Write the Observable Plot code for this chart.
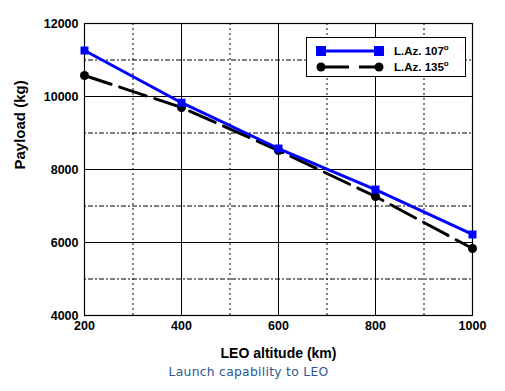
<!DOCTYPE html>
<html><head><meta charset="utf-8">
<script src="https://cdn.jsdelivr.net/npm/d3@7"></script>
<script src="https://cdn.jsdelivr.net/npm/@observablehq/plot@0.6"></script>
<style>
body{margin:0;background:#fff;font-family:'Liberation Sans',Arial,sans-serif;}
#wrap{position:relative;width:505px;height:391px;}
#legend{position:absolute;left:306px;top:37px;width:160px;height:40px;border:1px solid #000;background:#fff;box-sizing:border-box;}
#caption{position:absolute;left:0;top:365px;width:497px;text-align:center;font-family:'DejaVu Sans',Verdana,sans-serif;font-size:12.3px;color:#2b5797;letter-spacing:0.3px;}
svg text{font-family:'Liberation Sans',Arial,sans-serif;}
</style></head>
<body><div id="wrap"><div id="chart"></div><div id="legend"></div><div id="caption"></div></div>
<script>
const altitudes = [200, 400, 600, 800, 1000];
const payload107 = [11260, 9830, 8575, 7450, 6220];
const payload135 = [10575, 9700, 8520, 7260, 5835];
const seriesNames = ["L.Az. 107°", "L.Az. 135°"];
const xTicks = [200, 400, 600, 800, 1000];
const yTicks = [4000, 6000, 8000, 10000, 12000];
const xMinor = [300, 500, 700, 900];
const yMinor = [5000, 7000, 9000, 11000];
const xLabel = "LEO altitude (km)";
const yLabel = "Payload (kg)";
const caption = "Launch capability to LEO";

const d107 = altitudes.map((a, i) => ({x: a, y: payload107[i]}));
const d135 = altitudes.map((a, i) => ({x: a, y: payload135[i]}));

const FF = "'Liberation Sans', Arial, sans-serif";
const fontBold = {fontFamily: FF, fontWeight: "bold"};

const chart = Plot.plot({
  width: 505, height: 362,
  marginLeft: 84, marginRight: 33, marginTop: 23, marginBottom: 47,
  style: {fontFamily: FF, fontSize: "12px", background: "white", color: "black"},
  x: {domain: [200, 1000]},
  y: {domain: [4000, 12000]},
  marks: [
    Plot.ruleX(xMinor, {stroke: "black", strokeWidth: 1, strokeDasharray: "2,3"}),
    Plot.ruleY(yMinor, {stroke: "black", strokeWidth: 1, strokeDasharray: "2,2,5,2"}),
    Plot.ruleX(xTicks.slice(1, -1), {stroke: "black", strokeWidth: 1}),
    Plot.ruleY(yTicks.slice(1, -1), {stroke: "black", strokeWidth: 1}),
    Plot.frame({stroke: "black", strokeWidth: 1.2}),
    Plot.axisX(xTicks, {tickSize: 0, tickPadding: 6, label: null, tickFormat: d3.format("d"), ...fontBold, fontSize: 12.5}),
    Plot.axisY(yTicks, {tickSize: 0, tickPadding: 6, label: null, tickFormat: d3.format("d"), ...fontBold, fontSize: 12.5}),
    Plot.line(d135, {x: "x", y: "y", stroke: "black", strokeWidth: 3, strokeDasharray: "28,9"}),
    Plot.dot(d135, {x: "x", y: "y", fill: "black", r: 4.5}),
    Plot.line(d107, {x: "x", y: "y", stroke: "#0000ff", strokeWidth: 3}),
    Plot.dot(d107, {x: "x", y: "y", fill: "#0000ff", symbol: "square", r: 4.5}),
    Plot.text([xLabel], {frameAnchor: "bottom", dy: 38, text: d => d, ...fontBold, fontSize: 14, lineAnchor: "middle"}),
    Plot.text([yLabel], {frameAnchor: "left", dx: -64, rotate: -90, text: d => d, ...fontBold, fontSize: 15, lineAnchor: "middle"})
  ]
});
document.getElementById("chart").appendChild(chart);

document.getElementById("legend").innerHTML = `
<svg width="160" height="40" style="position:absolute;left:0;top:0">
  <line x1="14" y1="13" x2="72" y2="13" stroke="#0000ff" stroke-width="3"/>
  <rect x="9" y="8" width="10" height="10" fill="#0000ff"/>
  <rect x="67" y="8" width="10" height="10" fill="#0000ff"/>
  <line x1="14" y1="29" x2="72" y2="29" stroke="black" stroke-width="3" stroke-dasharray="28,10"/>
  <circle cx="14" cy="29" r="4.5" fill="black"/>
  <circle cx="72" cy="29" r="4.5" fill="black"/>
  <text x="87" y="17" font-family="'Liberation Sans', Arial, sans-serif" font-weight="bold" font-size="11.5">${seriesNames[0].replace("°","")}<tspan dy="-5" font-size="8">o</tspan></text>
  <text x="87" y="33" font-family="'Liberation Sans', Arial, sans-serif" font-weight="bold" font-size="11.5">${seriesNames[1].replace("°","")}<tspan dy="-5" font-size="8">o</tspan></text>
</svg>`;
document.getElementById("caption").textContent = caption;
</script>
</body></html>
